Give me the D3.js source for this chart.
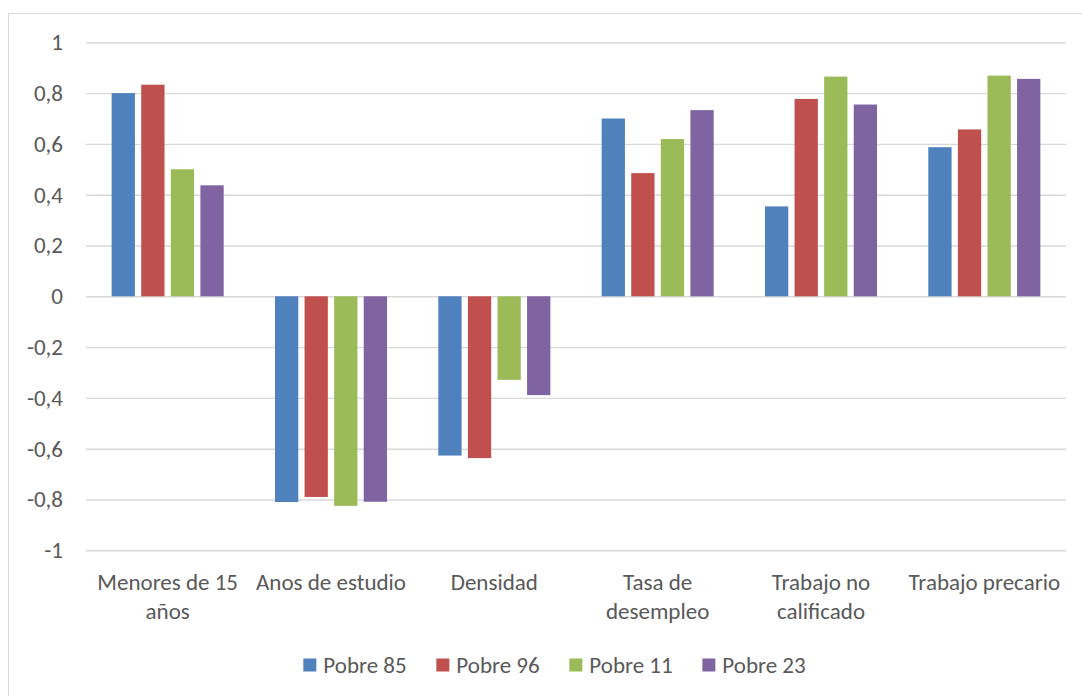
<!DOCTYPE html>
<html>
<head>
<meta charset="utf-8">
<script src="https://cdn.jsdelivr.net/npm/d3@7"></script>
<style>
  html, body { margin: 0; padding: 0; background: #ffffff; }
  svg { display: block; }
  text { font-family: Carlito, Lato, "Open Sans", sans-serif; fill: #595959; }
</style>
</head>
<body>
<svg id="chart" width="1082" height="696"></svg>
<script>
// Categories (x axis) and the lines each label is split into
const categories = ["Menores de 15 años", "Anos de estudio", "Densidad", "Tasa de desempleo", "Trabajo no calificado", "Trabajo precario"];
const categoryLines = [["Menores de 15", "años"], ["Anos de estudio"], ["Densidad"], ["Tasa de", "desempleo"], ["Trabajo no", "calificado"], ["Trabajo precario"]];

// Series
const seriesNames = ["Pobre 85", "Pobre 96", "Pobre 11", "Pobre 23"];
const pobre85 = [0.800, -0.810, -0.627, 0.700, 0.354, 0.587];
const pobre96 = [0.833, -0.790, -0.637, 0.485, 0.777, 0.657];
const pobre11 = [0.500, -0.825, -0.329, 0.619, 0.865, 0.869];
const pobre23 = [0.437, -0.809, -0.389, 0.733, 0.755, 0.856];
const seriesValues = [pobre85, pobre96, pobre11, pobre23];
const seriesColors = ["#4F81BD", "#C0504D", "#9BBB59", "#8064A2"];

// Y axis ticks
const yTicks = [-1, -0.8, -0.6, -0.4, -0.2, 0, 0.2, 0.4, 0.6, 0.8, 1];

const fontSize = 23;
const svg = d3.select("#chart");

// Chart area frame (runs past the right and bottom edges)
const frame = { x: 8.5, y: 13.5, w: 1092, h: 700 };
svg.append("rect")
  .attr("x", frame.x).attr("y", frame.y)
  .attr("width", frame.w).attr("height", frame.h)
  .attr("fill", "#ffffff").attr("stroke", "#d9d9d9").attr("stroke-width", 1);

const plot = { left: 86, right: 1066, top: 42.3, bottom: 550.3 };

const x0 = d3.scaleBand()
  .domain(categories)
  .range([plot.left, plot.right])
  .paddingInner(0.314)
  .paddingOuter(0.157);

const x1 = d3.scaleBand()
  .domain(seriesNames)
  .range([0, x0.bandwidth()])
  .paddingInner(0.213)
  .paddingOuter(0);

const y = d3.scaleLinear().domain([-1, 1]).range([plot.bottom, plot.top]);

const locale = d3.formatLocale({ decimal: ",", thousands: ".", grouping: [3], currency: ["", " €"], minus: "-" });
const fmt = locale.format("");

// Gridlines + y tick labels
const yAxis = svg.append("g")
  .attr("transform", `translate(${plot.left},0)`)
  .call(d3.axisLeft(y)
    .tickValues(yTicks)
    .tickSize(-(plot.right - plot.left))
    .tickPadding(23)
    .tickFormat(fmt));
yAxis.select(".domain").remove();
yAxis.selectAll(".tick line").attr("stroke", "#d9d9d9").attr("stroke-width", 1.4);
yAxis.selectAll(".tick text")
  .attr("font-size", fontSize)
  .attr("font-family", null)
  .attr("fill", "#595959");

// Bars
const groups = svg.append("g").selectAll("g")
  .data(categories)
  .join("g")
  .attr("transform", d => `translate(${x0(d)},0)`);

groups.selectAll("rect")
  .data((c, i) => seriesNames.map((s, k) => ({ series: s, value: seriesValues[k][i], color: seriesColors[k] })))
  .join("rect")
  .attr("x", d => x1(d.series))
  .attr("width", x1.bandwidth())
  .attr("y", d => y(Math.max(0, d.value)))
  .attr("height", d => Math.abs(y(d.value) - y(0)))
  .attr("fill", d => d.color);

// Category labels
const xAxis = svg.append("g")
  .attr("transform", `translate(0,${plot.bottom})`)
  .call(d3.axisBottom(x0).tickSize(0).tickFormat(""));
xAxis.select(".domain").remove();
xAxis.selectAll(".tick").each(function (d, i) {
  const t = d3.select(this).append("text")
    .attr("text-anchor", "middle")
    .attr("font-size", fontSize)
    .attr("fill", "#595959");
  categoryLines[i].forEach((line, j) => {
    t.append("tspan").attr("x", 0).attr("y", 39.7 + j * 29).text(line);
  });
});

// Legend
const legend = svg.append("g");
const items = legend.selectAll("g").data(seriesNames).join("g");
items.append("rect")
  .attr("width", 13).attr("height", 13)
  .attr("y", 658.5)
  .attr("fill", (d, i) => seriesColors[i]);
items.append("text")
  .attr("x", 20).attr("y", 672.5)
  .attr("font-size", fontSize)
  .text(d => d);
const gap = 29.7;
let widths = [];
items.each(function () { widths.push(this.getBBox().width); });
const total = d3.sum(widths) + gap * (widths.length - 1);
let cx = frame.x + frame.w / 2 - total / 2;
items.attr("transform", (d, i) => {
  const tx = cx;
  cx += widths[i] + gap;
  return `translate(${tx},0)`;
});
</script>
</body>
</html>
